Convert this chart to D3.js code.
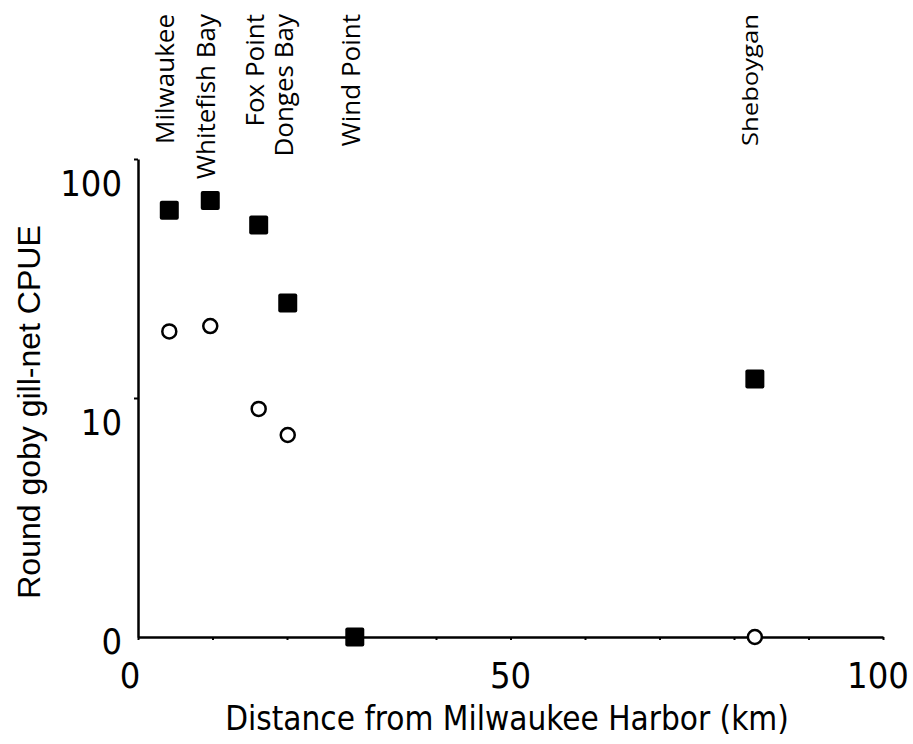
<!DOCTYPE html>
<html>
  <head>
    <title>Round goby CPUE</title>
    <script src="https://d3js.org/d3.v7.min.js"></script>
    <style>
      body { margin: 0; background: #fff; }
    </style>
  </head>
  <body>
  </body>
</html>

<script>
  // sites along the shore, distance from Milwaukee Harbor (km)
  var sites = ["Milwaukee", "Whitefish Bay", "Fox Point", "Donges Bay", "Wind Point", "Sheboygan"];
  var distance = [4.2, 9.7, 16.2, 20.1, 29.1, 82.8];
  // CPUE, filled squares and open circles
  var cpueSquares = [60, 66, 52, 24, 0, 11];
  var cpueCircles = [18, 19, 8, 6, 0, 0];
  var xTicks = [0, 50, 100];
  var yTicks = [0, 10, 100];

  var W = 913, H = 744;
  var svg = d3.select("body").append("svg")
              .attr("width", W)
              .attr("height", H);

  var x = d3.scaleLinear().domain([0, 100]).range([138, 883]);
  // log axis with 0 at the bottom: plot value + 1
  var y = d3.scaleLog().domain([1, 100]).range([637, 159]);
  function yv(v) { return y(v + 1); }
  function yt(t) { return y(t === 0 ? 1 : t); }

  var tickFont = "'DejaVu Sans Condensed', 'DejaVu Sans', sans-serif";

  // x axis
  var xAxis = svg.append("g")
                 .attr("transform", "translate(0,637)")
                 .call(d3.axisBottom(x).tickValues(d3.range(0, 101, 10)).tickSize(3).tickSizeOuter(0).tickFormat(""));
  xAxis.select(".domain").attr("stroke", "#000").attr("stroke-width", 2.5);
  xAxis.selectAll(".tick line").attr("stroke", "#000").attr("stroke-width", 2);

  svg.selectAll(".xlab")
     .data(xTicks)
     .enter()
     .append("text")
     .attr("class", "xlab")
     .attr("x", function(d) { return x(d) - (d === 0 ? 8 : d === 100 ? 5 : 0); })
     .attr("y", 688)
     .attr("text-anchor", "middle")
     .style("font-family", tickFont)
     .style("font-stretch", "condensed")
     .style("font-size", "36px")
     .text(function(d) { return d; });

  // y axis
  var yAxis = svg.append("g")
                 .attr("transform", "translate(138,0)")
                 .call(d3.axisLeft(y).tickValues([10, 100]).tickSize(4).tickSizeOuter(0).tickFormat(""));
  yAxis.select(".domain").attr("stroke", "#000").attr("stroke-width", 2.5);
  yAxis.selectAll(".tick line").attr("stroke", "#000").attr("stroke-width", 2);

  svg.selectAll(".ylab")
     .data(yTicks)
     .enter()
     .append("text")
     .attr("class", "ylab")
     .attr("x", 122)
     .attr("y", function(d) { return yt(d) + (d === 0 ? 17 : 37); })
     .attr("text-anchor", "end")
     .style("font-family", tickFont)
     .style("font-stretch", "condensed")
     .style("font-size", "36px")
     .text(function(d) { return d; });

  // axis titles
  svg.append("text")
     .attr("x", 507)
     .attr("y", 730)
     .attr("text-anchor", "middle")
     .style("font-family", tickFont)
     .style("font-stretch", "condensed")
     .style("font-size", "33px")
     .text("Distance from Milwaukee Harbor (km)");

  svg.append("text")
     .attr("transform", "translate(40,412) rotate(-90)")
     .attr("text-anchor", "middle")
     .style("font-family", "'Liberation Sans', Arial, sans-serif")
     .style("font-size", "32px")
     .text("Round goby gill-net CPUE");

  // site labels along the top
  svg.selectAll(".site")
     .data(sites)
     .enter()
     .append("text")
     .attr("class", "site")
     .attr("transform", function(d, i) { return "translate(" + (x(distance[i]) - 4) + ",14) rotate(-90)"; })
     .attr("dy", "0.35em")
     .attr("text-anchor", "end")
     .style("font-family", "'Open Sans', sans-serif")
     .style("font-size", function(d) { return d === "Sheboygan" ? "21px" : "26px"; })
     .each(function(d) {
       // the Sheboygan label is set narrower in the original
       if (d === "Sheboygan") d3.select(this).attr("textLength", 132).attr("lengthAdjust", "spacingAndGlyphs");
     })
     .text(function(d) { return d; });

  // open circles
  svg.selectAll(".circ")
     .data(cpueCircles)
     .enter()
     .append("circle")
     .attr("class", "circ")
     .attr("cx", function(d, i) { return x(distance[i]); })
     .attr("cy", function(d) { return yv(d); })
     .attr("r", 7)
     .attr("fill", "#fff")
     .attr("stroke", "#000")
     .attr("stroke-width", 2.5);

  // filled squares
  var s = 19;
  svg.selectAll(".sq")
     .data(cpueSquares)
     .enter()
     .append("rect")
     .attr("class", "sq")
     .attr("x", function(d, i) { return x(distance[i]) - s / 2; })
     .attr("y", function(d) { return yv(d) - s / 2; })
     .attr("width", s)
     .attr("height", s)
     .attr("rx", 2)
     .attr("fill", "#000");
</script>
